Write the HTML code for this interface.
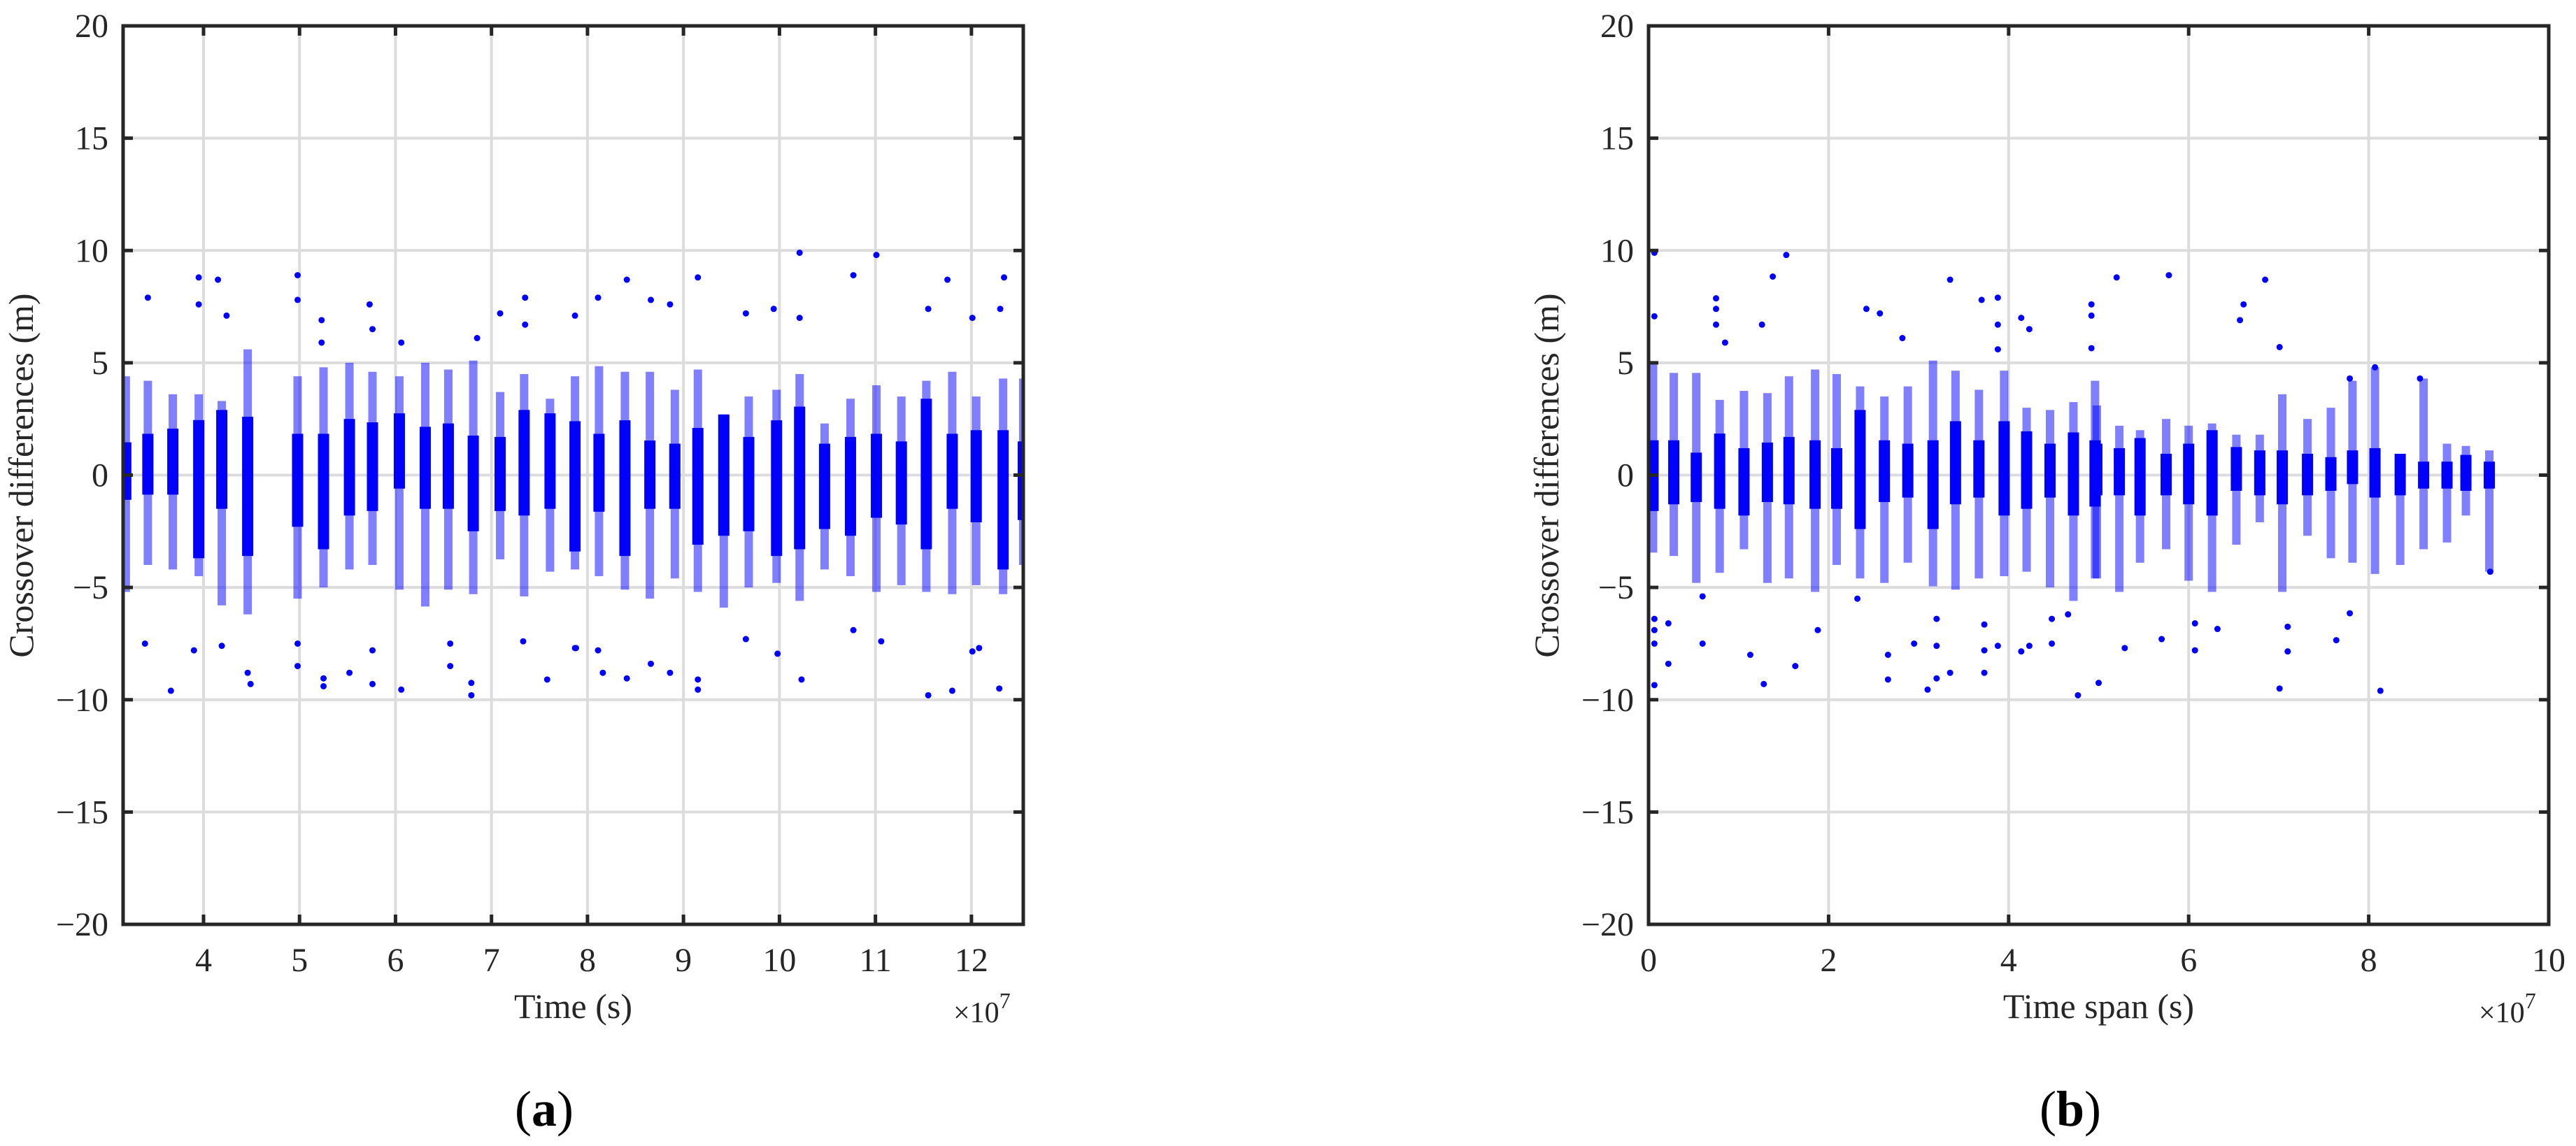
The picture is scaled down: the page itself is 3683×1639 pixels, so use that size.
<!DOCTYPE html>
<html><head><meta charset="utf-8"><style>
html,body{margin:0;padding:0;background:#fff;}
svg{display:block;font-family:"Liberation Serif",serif;}
</style></head><body>
<svg id="fig" width="3683" height="1639" viewBox="0 0 3683 1639" xmlns="http://www.w3.org/2000/svg"></svg>
<script>
// ---- Panel (a) data: columns (x in 1e7 s, y in m) ----
const aColX =    [3.19,3.42,3.68,3.95,4.19,4.46,4.98,5.25,5.52,5.76,6.04,6.31,6.55,6.81,7.09,7.34,7.61,7.87,8.12,8.39,8.65,8.91,9.15,9.42,9.68,9.97,10.21,10.47,10.74,11.01,11.27,11.53,11.80,12.05,12.33,12.54];
const aDenseHi = [1.46,1.84,2.07,2.45,2.9,2.6,1.84,1.84,2.5,2.35,2.75,2.15,2.3,1.76,1.7,2.9,2.75,2.4,1.84,2.44,1.54,1.4,2.1,2.7,1.7,2.44,3.05,1.4,1.7,1.84,1.5,3.4,1.84,2.0,2.0,1.5];
const aDenseLo = [-1.1,-0.87,-0.87,-3.7,-1.5,-3.6,-2.3,-3.3,-1.8,-1.6,-0.6,-1.5,-1.5,-2.5,-1.6,-1.8,-1.5,-3.4,-1.63,-3.6,-1.5,-1.5,-3.1,-2.7,-2.5,-3.6,-3.3,-2.4,-2.7,-1.9,-2.2,-3.3,-1.5,-2.1,-4.2,-2.0];
const aSpreadHi =[4.4,4.2,3.6,3.6,3.3,5.6,4.4,4.8,5.0,4.6,4.4,5.0,4.7,5.1,3.7,4.5,3.4,4.4,4.85,4.6,4.6,3.8,4.7,2.7,3.5,3.8,4.5,2.3,3.4,4.0,3.5,4.2,4.6,3.5,4.3,4.3];
const aSpreadLo =[-5.2,-4.0,-4.2,-4.5,-5.8,-6.2,-5.5,-5.0,-4.2,-4.0,-5.1,-5.85,-5.1,-5.3,-3.75,-5.4,-4.3,-4.2,-4.5,-5.1,-5.5,-4.6,-5.2,-5.9,-5.0,-4.8,-5.6,-4.2,-4.5,-5.2,-4.9,-5.2,-5.3,-4.9,-5.3,-4.0];
const aOutX = [3.42,3.95,3.95,4.15,4.24,4.98,4.98,5.23,5.23,5.73,5.76,6.06,6.85,7.09,7.35,7.35,7.87,10.21,11.01,8.41,9.15,10.77,11.75,12.34,8.11,8.66,8.86,9.94,10.21,11.55,12.3,12.01,9.65,
  3.39,3.66,3.9,4.19,4.46,4.49,4.98,4.98,5.25,5.25,5.52,5.76,5.76,6.06,6.57,6.57,6.79,6.79,7.33,7.58,7.88,8.41,8.66,8.86,9.15,9.15,10.23,9.98,11.55,11.8,12.29,12.08,12.01,8.11,8.16,9.65,10.77,11.06,7.87];
const aOutY = [7.9,8.8,7.6,8.7,7.1,8.9,7.8,6.9,5.9,7.6,6.5,5.9,6.1,7.2,7.9,6.7,7.1,9.9,9.8,8.7,8.8,8.9,8.7,8.8,7.9,7.8,7.6,7.4,7.0,7.4,7.4,7.0,7.2,
  -7.5,-9.6,-7.8,-7.6,-8.8,-9.3,-8.5,-7.5,-9.4,-9.05,-8.8,-9.3,-7.8,-9.55,-7.5,-8.5,-9.8,-9.25,-7.4,-9.1,-7.7,-9.05,-8.4,-8.8,-9.55,-9.1,-9.1,-7.95,-9.8,-9.6,-9.5,-7.7,-7.85,-7.8,-8.8,-7.3,-6.9,-7.4,-7.7];
const aXTicks = [4,5,6,7,8,9,10,11,12];

// ---- Panel (b) data ----
const bColX =    [0.05,0.28,0.53,0.79,1.06,1.32,1.56,1.85,2.09,2.35,2.62,2.88,3.16,3.41,3.67,3.95,4.20,4.46,4.72,4.96,4.98,5.23,5.46,5.75,6.00,6.26,6.53,6.79,7.04,7.32,7.58,7.82,8.07,8.35,8.61,8.87,9.08,9.34];
const bDenseHi = [1.55,1.55,1.0,1.85,1.2,1.45,1.7,1.55,1.2,2.9,1.55,1.4,1.55,2.4,1.55,2.4,1.95,1.4,1.9,1.55,1.4,1.2,1.65,0.95,1.4,2.0,1.25,1.1,1.1,0.95,0.8,1.1,1.2,0.95,0.6,0.6,0.9,0.6];
const bDenseLo = [-1.6,-1.3,-1.2,-1.5,-1.8,-1.2,-1.3,-1.5,-1.5,-2.4,-1.2,-1.0,-2.4,-1.3,-1.0,-1.8,-1.5,-1.0,-1.8,-1.4,-0.9,-0.9,-1.8,-0.9,-1.3,-1.8,-0.7,-0.9,-1.3,-0.9,-0.7,-0.4,-1.0,-0.9,-0.6,-0.6,-0.7,-0.6];
const bSpreadHi =[5.0,4.55,4.55,3.35,3.75,3.65,4.4,4.7,4.5,3.95,3.5,3.95,5.1,4.65,3.8,4.65,3.0,2.9,3.25,4.2,3.1,2.2,2.0,2.5,2.2,2.3,1.8,1.8,3.6,2.5,3.0,4.2,4.8,0.6,4.3,1.4,1.3,1.1];
const bSpreadLo =[-3.45,-3.6,-4.8,-4.35,-3.3,-4.8,-4.6,-5.2,-4.0,-4.6,-4.8,-3.9,-4.95,-5.1,-4.6,-4.5,-4.3,-5.0,-5.6,-4.6,-4.6,-5.2,-3.9,-3.3,-4.7,-5.2,-3.1,-2.1,-5.2,-2.7,-3.7,-3.9,-4.4,-4.0,-3.3,-3.0,-1.8,-4.3];
const bOutX = [0.065,0.065,1.53,1.38,0.75,0.75,0.75,1.26,0.85,2.42,2.57,2.82,3.35,3.7,3.88,3.88,3.88,4.14,4.23,4.92,4.92,4.92,5.2,5.78,6.85,6.61,6.57,7.01,8.07,8.57,7.79,
  0.065,0.065,0.065,0.065,0.22,0.22,0.6,0.6,1.13,1.28,1.63,1.88,2.32,2.66,2.66,2.95,3.1,3.2,3.2,3.2,3.35,3.73,3.73,3.73,3.88,4.14,4.23,4.48,4.48,4.66,4.77,5.0,5.29,5.7,6.07,6.07,6.32,7.1,7.1,7.64,7.79,7.01,8.13,9.35];
const bOutY = [9.9,7.07,9.8,8.84,7.87,7.4,6.7,6.7,5.9,7.4,7.2,6.1,8.7,7.8,7.9,6.7,5.6,7.0,6.5,7.6,7.1,5.65,8.8,8.9,8.7,7.6,6.9,5.7,4.8,4.3,4.3,
  -6.4,-6.9,-7.5,-9.35,-6.6,-8.4,-7.5,-5.4,-8.0,-9.3,-8.5,-6.9,-5.5,-8.0,-9.1,-7.5,-9.55,-9.05,-7.6,-6.4,-8.8,-8.8,-7.8,-6.65,-7.6,-7.85,-7.6,-7.5,-6.4,-6.2,-9.8,-9.25,-7.7,-7.3,-7.8,-6.6,-6.85,-7.85,-6.75,-7.35,-6.15,-9.5,-9.6,-4.3];
const bXTicks = [0,2,4,6,8,10];
const yTicks = [-20,-15,-10,-5,0,5,10,15,20];

const NS = "http://www.w3.org/2000/svg";
const svg = document.getElementById('fig');
function mk(tag, attrs, parent){
  const e = document.createElementNS(NS, tag);
  for (const k in attrs) e.setAttribute(k, attrs[k]);
  (parent||svg).appendChild(e);
  return e;
}
const TOP = 37, BOT = 1322;
function yScale(v){ return BOT - (v + 20) / 40 * (BOT - TOP); }

function panel(id, L, R, xMin, xMax, ticks, colX, dHi, dLo, sHi, sLo, oX, oY, xlabel, letter, letterX){
  const g = mk('g', {});
  
  
  const xs = v => L + (v - xMin) / (xMax - xMin) * (R - L);
  const clipId = 'clip-' + id;
  const cp = mk('clipPath', {id: clipId}, g);
  mk('rect', {x: L, y: TOP, width: R - L, height: BOT - TOP}, cp);
  const grid = mk('g', {stroke: '#dcdcdc', 'stroke-width': 4}, g);
  
  
  ticks.forEach(t => { const x = xs(t); if (x > L + 2 && x < R - 2) mk('line', {x1: x, x2: x, y1: TOP, y2: BOT}, grid); });
  yTicks.forEach(t => { const y = yScale(t); if (y > TOP + 2 && y < BOT - 2) mk('line', {x1: L, x2: R, y1: y, y2: y}, grid); });
  const data = mk('g', {'clip-path': 'url(#' + clipId + ')', fill: '#0000ff'}, g);
  
  
  for (let i = 0; i < colX.length; i++){
    const x = xs(colX[i]);
    const sp = mk('rect', {x: x - 6, y: yScale(sHi[i]), width: 12, height: yScale(sLo[i]) - yScale(sHi[i]), opacity: 0.5}, data);
    
    
    const dn = mk('rect', {x: x - 8, y: yScale(dHi[i]), width: 16, height: yScale(dLo[i]) - yScale(dHi[i])}, data);
    
    
  }
  for (let i = 0; i < oX.length; i++){
    const c = mk('circle', {cx: xs(oX[i]), cy: yScale(oY[i]), r: 4.5}, data);
    
    
  }
  const ax = mk('g', {stroke: '#262626', 'stroke-width': 5, fill: 'none'}, g);
  
  
  mk('rect', {x: L, y: TOP, width: R - L, height: BOT - TOP}, ax);
  ticks.forEach(t => { const x = xs(t); if (x >= L - 1 && x <= R + 1){ mk('line', {x1: x, x2: x, y1: BOT, y2: BOT - 14}, ax); mk('line', {x1: x, x2: x, y1: TOP, y2: TOP + 14}, ax);} });
  yTicks.forEach(t => { const y = yScale(t); mk('line', {x1: L, x2: L + 14, y1: y, y2: y}, ax); mk('line', {x1: R, x2: R - 14, y1: y, y2: y}, ax); });
  const tl = mk('g', {fill: '#262626', 'font-size': 48}, g);
  
  
  ticks.forEach(t => { const x = xs(t); if (x >= L - 1 && x <= R + 1){ const e = mk('text', {x: x, y: 1389, 'text-anchor': 'middle'}, tl); e.textContent = String(t); } });
  const yl = mk('g', {fill: '#262626', 'font-size': 48, 'text-anchor': 'end'}, g);
  
  
  yTicks.forEach(t => { const e = mk('text', {x: L - 21, y: yScale(t) + 16}, yl); e.textContent = t < 0 ? '\u2212' + (-t) : String(t); });
  const ex = mk('text', {x: R - 100, y: 1462, 'font-size': 42, fill: '#262626'}, g);
  
  
  ex.innerHTML = '\u00d710<tspan dy="-20" font-size="32">7</tspan>';
  const xl = mk('text', {x: (L + R) / 2, y: 1456, 'text-anchor': 'middle', 'font-size': 50, fill: '#262626'}, g);
  
  
  xl.textContent = xlabel;
  const yc = L - 145;
  const ylab = mk('text', {x: yc, y: 680, 'text-anchor': 'middle', 'font-size': 50, fill: '#262626', transform: 'rotate(-90 ' + yc + ' 680) translate(0 16)'}, g);
  
  
  ylab.textContent = 'Crossover differences (m)';
  const lt = mk('text', {x: letterX, y: 1610, 'text-anchor': 'middle', 'font-size': 72, fill: '#000'}, g);
  
  
  lt.innerHTML = '(<tspan font-weight="bold">' + letter + '</tspan>)';
}
panel('a', 176, 1463, 3.162, 12.54, aXTicks, aColX, aDenseHi, aDenseLo, aSpreadHi, aSpreadLo, aOutX, aOutY, 'Time (s)', 'a', 778);
panel('b', 2357, 3644, 0, 10, bXTicks, bColX, bDenseHi, bDenseLo, bSpreadHi, bSpreadLo, bOutX, bOutY, 'Time span (s)', 'b', 2960);
</script>
</body></html>
